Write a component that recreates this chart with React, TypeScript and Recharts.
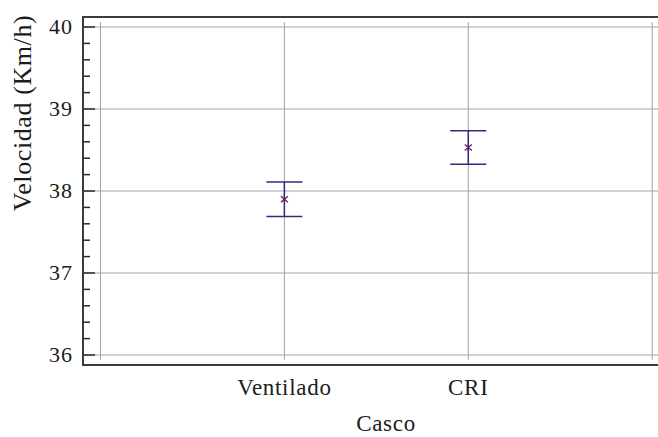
import React from 'react';
import {
  ScatterChart,
  Scatter,
  XAxis,
  YAxis,
  ErrorBar,
  ReferenceLine,
  ReferenceArea,
} from 'recharts';

// Helmet type vs. mean speed with error intervals
const categories = ['Ventilado', 'CRI'];
const means = [37.9, 38.53];
const halfIntervals = [0.21, 0.205];

const yMajorTicks = [36, 37, 38, 39, 40];
const yTicks = [
  36, 36.2, 36.4, 36.6, 36.8, 37, 37.2, 37.4, 37.6, 37.8, 38, 38.2, 38.4, 38.6, 38.8, 39,
  39.2, 39.4, 39.6, 39.8, 40,
];
const xGridValues = [0, 1, 2, 3];
const xTicks = [1, 2];

const data = categories.map((name, i) => ({
  x: i + 1,
  name,
  y: means[i],
  err: halfIntervals[i],
}));

const FONT = 'Liberation Serif';
const TEXT = '#1c1c1c';
const GRID = '#a3a3a3';
const FRAME = '#3c3c3c';
const BAR = '#2e2c7e';
const MARK = '#5a2468';

const Y_DOMAIN: [number, number] = [35.878, 40.122];
const X_DOMAIN: [number, number] = [-0.095, 3.2];

const textStyle = (spacing: number): React.CSSProperties => ({
  fontFamily: FONT,
  letterSpacing: spacing,
});

const YTick = (props: any) => {
  const { x, y, payload } = props;
  const v = payload.value as number;
  const major = Math.abs(v - Math.round(v)) < 1e-6;
  const frameX = x + 10;
  return (
    <g>
      <line
        x1={frameX}
        x2={frameX + (major ? 12 : 7)}
        y1={y}
        y2={y}
        stroke="#2a2a2a"
        strokeWidth={1.5}
      />
      {major && (
        <text
          x={x}
          y={y}
          dy="0.3em"
          textAnchor="end"
          fontSize={22}
          fill={TEXT}
          style={textStyle(1)}
        >
          {Math.round(v)}
        </text>
      )}
    </g>
  );
};

const XTick = (props: any) => {
  const { x, y, payload } = props;
  const label = categories[(payload.value as number) - 1] ?? '';
  return (
    <text
      x={x}
      y={y + 30}
      textAnchor="middle"
      fontSize={23}
      fill={TEXT}
      style={textStyle(0.7)}
    >
      {label}
    </text>
  );
};

const Asterisk = (props: any) => {
  const { cx, cy } = props;
  return (
    <g stroke={MARK} strokeWidth={1.3}>
      <line x1={cx} x2={cx} y1={cy - 4} y2={cy + 4} />
      <line x1={cx - 3.5} x2={cx + 3.5} y1={cy - 3} y2={cy + 3} />
      <line x1={cx - 3.5} x2={cx + 3.5} y1={cy + 3} y2={cy - 3} />
    </g>
  );
};

export default function App() {
  return (
    <div
      style={{
        position: 'absolute',
        left: 0,
        top: 0,
        width: 658,
        height: 437,
        overflow: 'hidden',
        background: '#ffffff',
      }}
    >
      <ScatterChart
        width={700}
        height={437}
        margin={{ top: 17, right: 11, bottom: 0, left: 0 }}
      >
        <XAxis
          type="number"
          dataKey="x"
          domain={X_DOMAIN}
          allowDataOverflow
          ticks={xTicks}
          tick={<XTick />}
          tickLine={false}
          axisLine={false}
          tickSize={0}
          tickMargin={0}
          height={72}
          label={(p: any) => {
            const vb = p.viewBox;
            return (
              <text
                x={vb.x + vb.width / 2}
                y={431}
                textAnchor="middle"
                fontSize={23}
                fill={TEXT}
                style={textStyle(0.7)}
              >
                Casco
              </text>
            );
          }}
        />
        <YAxis
          type="number"
          dataKey="y"
          domain={Y_DOMAIN}
          allowDataOverflow
          ticks={yTicks}
          interval={0}
          tick={<YTick />}
          tickLine={false}
          axisLine={false}
          tickSize={0}
          tickMargin={10}
          width={83}
          label={() => (
            <text
              transform="translate(31,113) rotate(-90)"
              textAnchor="middle"
              fontSize={26}
              fill={TEXT}
              style={textStyle(0.6)}
            >
              Velocidad (Km/h)
            </text>
          )}
        />
        {yMajorTicks.map((v) => (
          <ReferenceLine key={`h${v}`} y={v} stroke={GRID} strokeWidth={1} />
        ))}
        {xGridValues.map((v) => (
          <ReferenceLine
            key={`v${v}`}
            segment={[
              { x: v, y: 35.94 },
              { x: v, y: 40.06 },
            ]}
            stroke={GRID}
            strokeWidth={1}
          />
        ))}
        <ReferenceArea
          x1={X_DOMAIN[0]}
          x2={X_DOMAIN[1]}
          y1={Y_DOMAIN[0]}
          y2={Y_DOMAIN[1]}
          fill="none"
          stroke={FRAME}
          strokeWidth={2}
          ifOverflow="visible"
        />
        <Scatter data={data} shape={<Asterisk />} isAnimationActive={false}>
          <ErrorBar
            dataKey="err"
            direction="y"
            width={18}
            stroke={BAR}
            strokeWidth={1.5}
            isAnimationActive={false}
          />
        </Scatter>
      </ScatterChart>
    </div>
  );
}
